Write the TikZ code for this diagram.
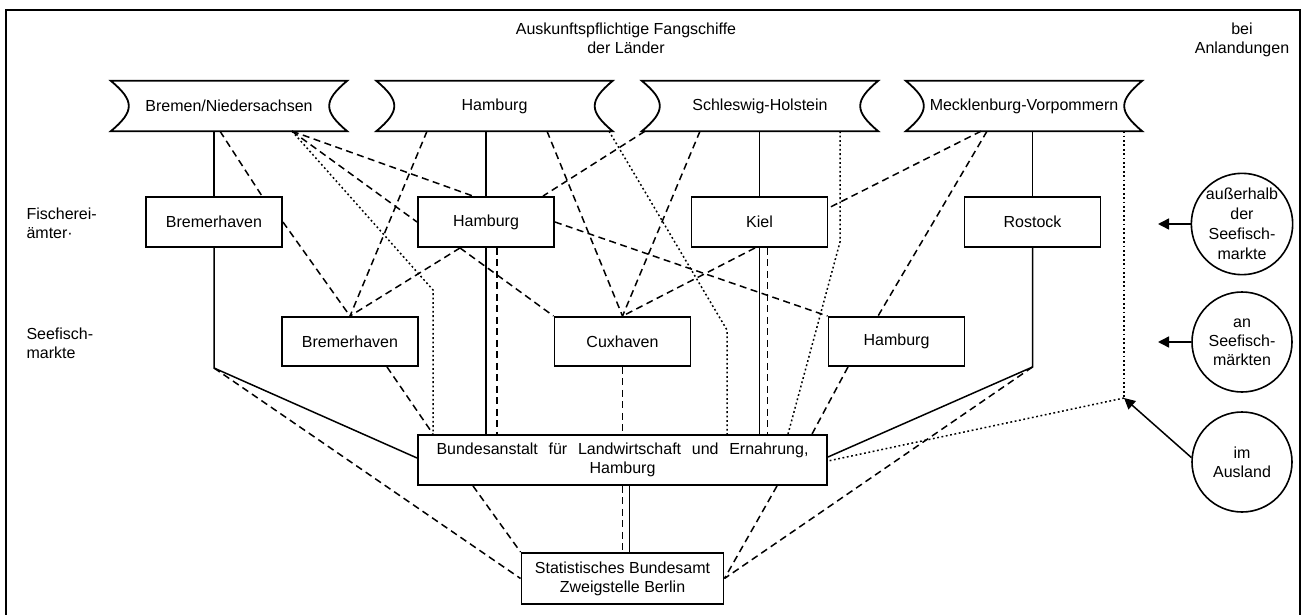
\documentclass[tikz,border=0pt]{standalone}
\usepackage{fontspec}
\setmainfont{Liberation Sans}
\usetikzlibrary{arrows.meta,calc,backgrounds}
\newcommand{\drawstate}[1]{%
 \draw[line width=1.8pt] (#1.north west) -- (#1.north east)
   .. controls ($(#1.north east)+(-24,20)$) and ($(#1.south east)+(-24,-20)$) .. (#1.south east)
   -- (#1.south west)
   .. controls ($(#1.south west)+(24,-20)$) and ($(#1.north west)+(24,20)$) .. (#1.north west) -- cycle;}
\begin{document}
\begin{tikzpicture}[x=1pt,y=-1pt,
  font=\fontsize{16}{19}\selectfont,
  state/.style={minimum width=236pt, minimum height=50pt, inner sep=0pt},
  box/.style={draw, line width=1.9pt, fill=white, minimum width=136pt, minimum height=50pt, inner sep=0pt},
  circ/.style={draw, circle, line width=1.6pt, minimum size=100pt, inner sep=0pt, align=center, fill=white},
  ln/.style={line width=1.5pt},
  dsh/.style={ln, dash pattern=on 7pt off 4.5pt},
  dtt/.style={ln, dash pattern=on 1.8pt off 2.6pt},
  arr/.style={ln, -{Triangle[length=11pt,width=11pt]}}]
\useasboundingbox (0,0) rectangle (1308,615);
% frame
\draw[line width=1.6pt] (6,615) -- (6,10) -- (1300,10) -- (1300,615);
% headings
\node[align=center] (title) at (626,38) {Auskunftspflichtige Fangschiffe\\der Länder};
\node[align=center] (bei) at (1242,40) {bei\\Anlandungen};
\node[align=left, anchor=west] (fa) at (23,223) {Fischerei-\\ämter·};
\node[align=left, anchor=west] (sm) at (23,343) {Seefisch-\\markte};
% states
\node[state] (BN) at (229,106) {Bremen/Niedersachsen};
\node[state] (HH) at (494.5,106) {Hamburg};
\node[state] (SH) at (760,106) {Schleswig-Holstein};
\node[state] (MV) at (1024,106) {Mecklenburg-Vorpommern};
\drawstate{BN}\drawstate{HH}\drawstate{SH}\drawstate{MV}
% Fischereiaemter
\node[box] (FB) at (214,222) {Bremerhaven};
\node[box] (FH) at (486,222) {Hamburg};
\node[box] (FK) at (759.5,222) {Kiel};
\node[box] (FR) at (1032.5,222) {Rostock};
% Seefischmaerkte
\node[box, minimum height=49pt] (MB) at (350,341.5) {Bremerhaven};
\node[box, minimum height=49pt] (MC) at (622.5,341.5) {Cuxhaven};
\node[box, minimum height=49pt] (MH) at (896.5,341.5) {Hamburg};
% central offices
\node[box, minimum width=409pt, align=center] (BLE) at (622.5,460)
  {\makebox[372pt][s]{Bundesanstalt für Landwirtschaft und Ernahrung,}\\Hamburg};
\node[box, minimum width=202pt, minimum height=51pt, align=center] (STB) at (622.5,578.5)
  {Statistisches Bundesamt\\Zweigstelle Berlin};
% circles
\node[circ, font=\fontsize{16}{20}\selectfont] (C1) at (1242,224) {außerhalb\\der\\Seefisch-\\markte};
\node[circ] (C2) at (1242,342) {an\\Seefisch-\\märkten};
\node[circ] (C3) at (1242,462) {im\\Ausland};
% coordinates
\coordinate (cBN) at (FB.south |- 0,368);
\coordinate (cMV) at (FR.south |- 0,367);
\coordinate (b1) at (433,290);
\coordinate (b2) at (727,330);
\coordinate (b3) at (840,242);
\coordinate (jn) at (1124,398);
\begin{scope}[on background layer]
% solid
\draw[ln] (BN.south -| FB.north) -- (FB.north);
\draw[ln] (FB.south) -- (cBN) -- ([yshift=2pt]BLE.west);
\draw[ln] (HH.south -| FH.north) -- (FH.north);
\draw[ln] (FH.south) -- (FH.south |- BLE.north);
\draw[ln] (SH.south -| FK.north) -- (FK.north);
\draw[ln] (FK.south) -- (FK.south |- BLE.north);
\draw[ln] (MV.south -| FR.north) -- (FR.north);
\draw[ln] (FR.south) -- (cMV) -- ([yshift=3pt]BLE.east);
\draw[ln] ([xshift=7pt]STB.north |- BLE.south) -- ([xshift=7pt]STB.north);
% dashed
\draw[dsh] ([xshift=11pt]FH.south) -- ([xshift=11pt]FH.south |- BLE.north);
\draw[dsh] ([xshift=8pt]FK.south) -- ([xshift=8pt]FK.south |- BLE.north);
\draw[dsh] (STB.north |- BLE.south) -- (STB.north);
\draw[dsh] (cBN) -- (STB.west);
\draw[dsh] (cMV) -- (STB.east);
\draw[dsh] (BN.south -| 220,0) -- (FB.north -| 262,0);
\draw[dsh] (FB.east) -- (MB.north);
\draw[dsh] (BN.south -| 292,0) -- (FH.north -| 473,0);
\draw[dsh] (BN.south -| 292,0) -- (FH.west);
\draw[dsh] (HH.south -| 427,0) -- (MB.north);
\draw[dsh] (FH.south -| 460,0) -- (MB.north);
\draw[dsh] (FH.south -| 460,0) -- (MC.north west);
\draw[dsh] (MB.south -| 387,0) -- (BLE.north -| 433,0);
\draw[dsh] (HH.south -| 547,0) -- (MC.north);
\draw[dsh] (SH.south -| 700,0) -- (MC.north);
\draw[dsh] (FK.south -| 755,0) -- (MC.north);
\draw[dsh] (SH.south -| 645,0) -- (FH.north -| 543,0);
\draw[dsh] (FH.east) -- (MH.north west);
\draw[dsh] (MV.south -| 981,0) -- ([yshift=14pt]FK.east);
\draw[dsh] (MV.south -| 987,0) -- (MH.north -| 878,0);
\draw[dsh] (MC.south) -- (MC.south |- BLE.north);
\draw[dsh] (MH.south -| 848,0) -- (BLE.north -| 812,0);
\draw[dsh] (BLE.south -| 473,0) -- (STB.north west);
\draw[dsh] (BLE.south -| 777,0) -- (STB.east);
% dotted
\draw[dtt] (BN.south -| 292,0) -- (b1) -- (BLE.north -| b1);
\draw[dtt] (HH.south -| 609,0) -- (b2) -- (BLE.north -| b2);
\draw[dtt] (SH.south -| b3) -- (b3) -- (BLE.north -| 788,0);
\draw[dtt] (MV.south -| jn) -- (jn);
\draw[dtt] (jn) -- ([yshift=-1pt]BLE.east);
\end{scope}
% arrows from circles
\draw[arr] (C1.west) -- (C1.west -| 1158,0);
\draw[arr] (C2.west) -- (C2.west -| 1158,0);
\draw[arr] (C3.175) -- (jn);
\end{tikzpicture}
\end{document}
